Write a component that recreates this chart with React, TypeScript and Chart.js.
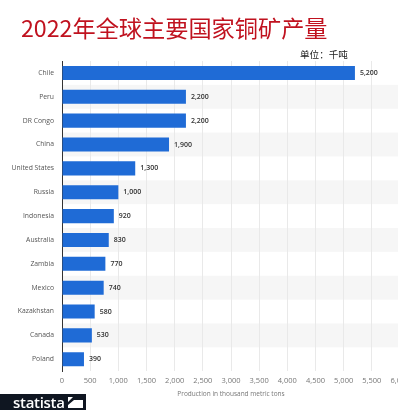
import React, { useEffect, useRef } from "react";
import { Chart, registerables } from "chart.js";

Chart.register(...registerables);

const titleText = "2022年全球主要国家铜矿产量";
const unitText = "单位：千吨";
const xAxisTitle = "Production in thousand metric tons";
const countries = [
  "Chile",
  "Peru",
  "DR Congo",
  "China",
  "United States",
  "Russia",
  "Indonesia",
  "Australia",
  "Zambia",
  "Mexico",
  "Kazakhstan",
  "Canada",
  "Poland",
];
const production = [5200, 2200, 2200, 1900, 1300, 1000, 920, 830, 770, 740, 580, 530, 390];
const xMin = 0;
const xMax = 6000;
const xStep = 500;

const FONT = "'Open Sans', 'Noto Sans', sans-serif";

const stripesPlugin = {
  id: "stripes",
  beforeDraw(chart: any) {
    const { ctx, chartArea } = chart;
    const n = countries.length;
    const h = (chartArea.bottom - chartArea.top) / n;
    ctx.save();
    ctx.fillStyle = "#f6f6f6";
    for (let i = 0; i < n; i++) {
      if (i % 2 === 1) {
        ctx.fillRect(chartArea.left, chartArea.top + i * h, chartArea.right - chartArea.left, h);
      }
    }
    ctx.restore();
  },
};

const valueLabelsPlugin = {
  id: "valueLabels",
  afterDatasetsDraw(chart: any) {
    const { ctx } = chart;
    const meta = chart.getDatasetMeta(0);
    ctx.save();
    ctx.font = `600 7px ${FONT}`;
    ctx.fillStyle = "#333333";
    ctx.textAlign = "left";
    ctx.textBaseline = "middle";
    meta.data.forEach((bar: any, i: number) => {
      const v = chart.data.datasets[0].data[i] as number;
      ctx.fillText(v.toLocaleString("en-US"), bar.x + 5, bar.y);
    });
    ctx.restore();
  },
};

export default function App() {
  const ref = useRef<HTMLCanvasElement | null>(null);

  useEffect(() => {
    if (!ref.current) return;
    const chart = new Chart(ref.current, {
      type: "bar",
      data: {
        labels: countries,
        datasets: [
          {
            data: production,
            backgroundColor: "#1f6bd6",
            borderWidth: 0,
            barPercentage: 0.59,
            categoryPercentage: 1,
          },
        ],
      },
      options: {
        indexAxis: "y",
        responsive: false,
        animation: false,
        devicePixelRatio: 1,
        layout: { padding: { top: 61, left: 0, right: 18, bottom: 16 } },
        plugins: {
          legend: { display: false },
          tooltip: { enabled: false },
        },
        scales: {
          x: {
            min: xMin,
            max: xMax,
            ticks: {
              stepSize: xStep,
              color: "#777777",
              font: { family: FONT, size: 7.5 },
              padding: 5,
              maxRotation: 0,
              callback: (v: any) => Number(v).toLocaleString("en-US"),
            },
            grid: { color: "#e9e9e9", drawTicks: false },
            border: { display: false },
            title: {
              display: true,
              text: xAxisTitle,
              color: "#777777",
              font: { family: FONT, size: 6.5 },
              padding: { top: 0, bottom: 0 },
            },
          },
          y: {
            grid: { display: false, drawTicks: false },
            border: { display: true, color: "#333333", width: 1 },
            ticks: {
              color: "#555555",
              font: { family: FONT, size: 6.8 },
              padding: 8,
            },
            afterFit: (scale: any) => {
              scale.width = 62;
            },
          },
        },
      },
      plugins: [stripesPlugin, valueLabelsPlugin],
    });
    return () => chart.destroy();
  }, []);

  return (
    <div
      style={{
        position: "fixed",
        left: 0,
        top: 0,
        width: 398,
        height: 414,
        overflow: "hidden",
        background: "#ffffff",
      }}
    >
      <canvas ref={ref} width={418} height={414} style={{ position: "absolute", left: 0, top: 0 }} />
      <div
        style={{
          position: "absolute",
          left: 21,
          top: 12,
          fontFamily: "'Noto Sans CJK SC', sans-serif",
          fontSize: 23.2,
          lineHeight: "30px",
          color: "#c0121f",
          whiteSpace: "nowrap",
        }}
      >
        {titleText}
      </div>
      <div
        style={{
          position: "absolute",
          left: 300,
          top: 47,
          fontFamily: "'Noto Sans CJK SC', sans-serif",
          fontSize: 9.6,
          lineHeight: "14px",
          color: "#222222",
          whiteSpace: "nowrap",
        }}
      >
        {unitText}
      </div>
      <div
        style={{
          position: "absolute",
          left: 0,
          top: 394,
          width: 86,
          height: 16,
          background: "#0f1621",
          display: "flex",
          alignItems: "center",
        }}
      >
        <span
          style={{
            marginLeft: 13,
            fontFamily: "'Open Sans', sans-serif",
            fontWeight: 600,
            fontSize: 15,
            lineHeight: "16px",
            color: "#ffffff",
            letterSpacing: -0.3,
          }}
        >
          statista
        </span>
        <svg width="15" height="11" style={{ marginLeft: 3 }} viewBox="0 0 15 11">
          <rect x="0" y="0" width="15" height="11" fill="#ffffff" />
          <polygon points="0,11 0,8 6,3 15,3 15,0 5,0 0,5" fill="#0f1621" />
          <polygon points="0,11 9,11 15,5 15,8" fill="#ffffff" />
        </svg>
      </div>
    </div>
  );
}
